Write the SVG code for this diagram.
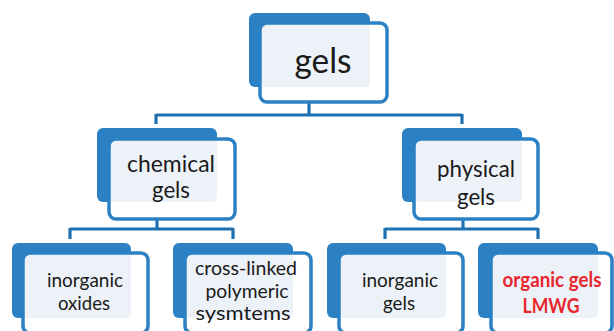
<svg xmlns="http://www.w3.org/2000/svg" width="614" height="331" viewBox="0 0 614 331">
<style>
.back{fill:#2b81c3;}
.light{fill:#edf2f8;}
.front{fill:none;stroke:#2b81c3;stroke-width:3.5;}
.frontbg{fill:#ffffff;}
.t{font-family:Lato,"Open Sans","Liberation Sans",sans-serif;fill:#1a1a1a;text-anchor:middle;}
.big{font-size:34px;}
.mid{font-size:23px;}
.sm{font-size:20px;}
.red{fill:#e8262d;font-weight:bold;font-size:20px;}
.conn{fill:none;stroke:#1f70b0;stroke-width:3.2;stroke-linejoin:miter;}
</style>
<rect width="614" height="331" fill="#ffffff"/>
<g id="connectors">
<path class="conn" d="M309 100 V115 M156 115 H462 M156 114 V124 M462 114 V124"/>
<path class="conn" d="M157 218 V229 M70 229 H233 M70 228 V239 M233 228 V239"/>
<path class="conn" d="M463 218 V229 M385 229 H538 M385 228 V239 M538 228 V239"/>
</g>
<g id="node-gels">
<rect class="back" x="249" y="13" width="121" height="74" rx="6"/>
<rect class="frontbg" x="260" y="23" width="127" height="79" rx="7"/>
<rect class="light" x="261" y="24" width="109" height="63" rx="4"/>
<rect class="front" x="260" y="23" width="127" height="79" rx="7"/>
<text class="t big" x="323" y="73" textLength="57" lengthAdjust="spacingAndGlyphs">gels</text>
</g>
<g id="node-chemical">
<rect class="back" x="97" y="128" width="120" height="74" rx="6"/>
<rect class="frontbg" x="109" y="139" width="126" height="80" rx="7"/>
<rect class="light" x="110" y="140" width="107" height="62" rx="4"/>
<rect class="front" x="109" y="139" width="126" height="80" rx="7"/>
<text class="t mid" x="171" y="172" textLength="88" lengthAdjust="spacingAndGlyphs">chemical</text>
<text class="t mid" x="171" y="198" textLength="38" lengthAdjust="spacingAndGlyphs">gels</text>
</g>
<g id="node-physical">
<rect class="back" x="402" y="128" width="120" height="74" rx="6"/>
<rect class="frontbg" x="414" y="139" width="124" height="80" rx="7"/>
<rect class="light" x="415" y="140" width="107" height="62" rx="4"/>
<rect class="front" x="414" y="139" width="124" height="80" rx="7"/>
<text class="t mid" x="476" y="177" textLength="78" lengthAdjust="spacingAndGlyphs">physical</text>
<text class="t mid" x="476" y="205" textLength="38" lengthAdjust="spacingAndGlyphs">gels</text>
</g>
<g id="node-inorganic-oxides">
<rect class="back" x="12" y="243" width="119" height="75" rx="6"/>
<rect class="frontbg" x="23" y="253" width="125" height="80" rx="7"/>
<rect class="light" x="24" y="254" width="107" height="64" rx="4"/>
<rect class="front" x="23" y="253" width="125" height="80" rx="7"/>
<text class="t sm" x="85" y="287" textLength="76" lengthAdjust="spacingAndGlyphs">inorganic</text>
<text class="t sm" x="84" y="310" textLength="52" lengthAdjust="spacingAndGlyphs">oxides</text>
</g>
<g id="node-cross-linked">
<rect class="back" x="173" y="243" width="120" height="75" rx="6"/>
<rect class="frontbg" x="185" y="253" width="126" height="80" rx="7"/>
<rect class="light" x="186" y="254" width="107" height="64" rx="4"/>
<rect class="front" x="185" y="253" width="126" height="80" rx="7"/>
<text class="t sm" x="246" y="275" textLength="102" lengthAdjust="spacingAndGlyphs">cross-linked</text>
<text class="t sm" x="247" y="298" textLength="83" lengthAdjust="spacingAndGlyphs">polymeric</text>
<text class="t sm" x="243" y="320" textLength="95" lengthAdjust="spacingAndGlyphs">sysmtems</text>
</g>
<g id="node-inorganic-gels">
<rect class="back" x="327" y="243" width="119" height="75" rx="6"/>
<rect class="frontbg" x="339" y="253" width="124" height="80" rx="7"/>
<rect class="light" x="340" y="254" width="106" height="64" rx="4"/>
<rect class="front" x="339" y="253" width="124" height="80" rx="7"/>
<text class="t sm" x="400" y="287" textLength="76" lengthAdjust="spacingAndGlyphs">inorganic</text>
<text class="t sm" x="399" y="310" textLength="32" lengthAdjust="spacingAndGlyphs">gels</text>
</g>
<g id="node-organic-gels">
<rect class="back" x="478" y="243" width="120" height="75" rx="6"/>
<rect class="frontbg" x="491" y="253" width="121" height="80" rx="7"/>
<rect class="light" x="492" y="254" width="106" height="64" rx="4"/>
<rect class="front" x="491" y="253" width="121" height="80" rx="7"/>
<text class="t red" x="552" y="287" textLength="99" lengthAdjust="spacingAndGlyphs">organic gels</text>
<text class="t red" x="551" y="313" textLength="57" lengthAdjust="spacingAndGlyphs">LMWG</text>
</g>
</svg>
